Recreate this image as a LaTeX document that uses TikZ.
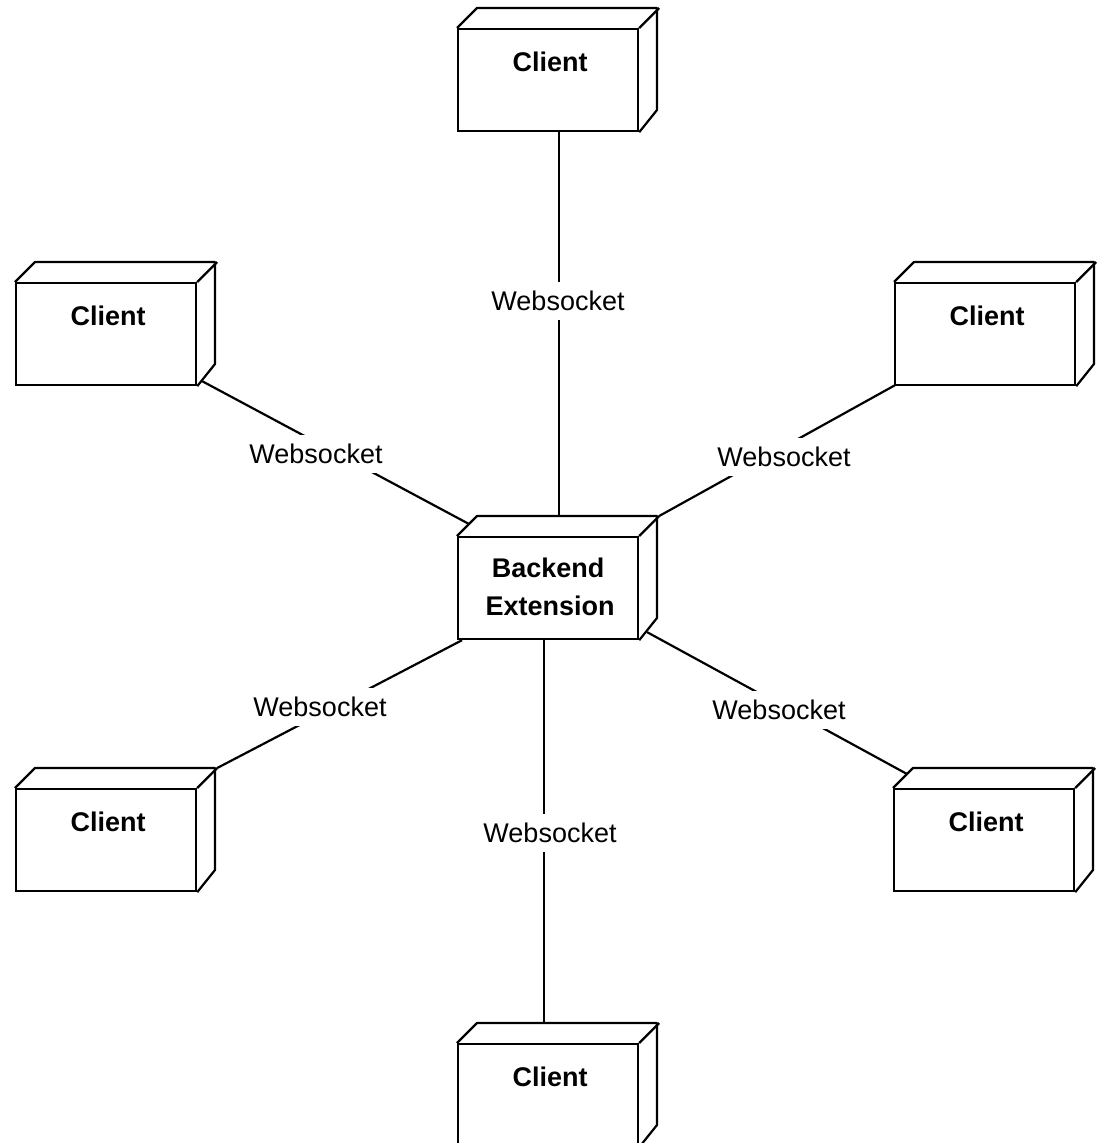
\documentclass[tikz,border=0pt]{standalone}
\usepackage{fontspec}
\setmainfont{Liberation Sans}
\usetikzlibrary{calc}
\tikzset{
  box/.style={draw, line width=2.2pt, minimum width=180pt, minimum height=102pt, inner sep=0pt, anchor=north west, fill=white},
  edge/.style={line width=2.2pt, line join=round},
  boxtext/.style={font=\fontsize{27}{32}\selectfont\bfseries, anchor=base, inner sep=0pt},
  lbl/.style={font=\fontsize{27}{32}\selectfont, fill=white, inner xsep=2pt, inner ysep=0pt, minimum height=38pt},
}
\newcommand{\umlbox}[4]{%
  \node[box] (#1) at (#2,#3) {};
  \draw[edge] (#1.north west) -- ++(20,-20) -- ++(180,0) -- ++(0,102) -- (#1.south east);
  \draw[edge] (#1.north east) -- ++(20,-20);
  \node[boxtext] (#1-t) at ($(#1.north)+(2,43)$) {#4};
}
\begin{document}
\begin{tikzpicture}[x=1pt, y=-1pt]
  \useasboundingbox (0,0) rectangle (1101,1143);
  % nodes
  \umlbox{T}{457}{28}{Client}
  \umlbox{L1}{15}{282}{Client}
  \umlbox{R1}{894}{282}{Client}
  \umlbox{L2}{15}{788}{Client}
  \umlbox{R2}{893}{788}{Client}
  \umlbox{B}{457}{1043}{Client}
  \node[box] (C) at (457,536) {};
  \draw[edge] (C.north west) -- ++(20,-20) -- ++(180,0) -- ++(0,102) -- (C.south east);
  \draw[edge] (C.north east) -- ++(20,-20);
  \node[boxtext] (C-t1) at ($(C.north)+(0,41)$) {Backend};
  \node[boxtext] (C-t2) at ($(C.north)+(2,79)$) {Extension};
  % connectors
  \draw[edge] ($(T.south)+(11,0)$) -- ($(C.north)+(11,-20)$);
  \draw[edge] ($(L1.south east)+(5,-5)$) -- ($(C.north west)+(12,-12)$);
  \draw[edge] ($(R1.south west)+(1,-1)$) -- ($(C.north east)+(20,-20)$);
  \draw[edge] ($(L2.north east)+(20,-20)$) -- ($(C.south west)+(5,0)$);
  \draw[edge] ($(C.south east)+(8,-8)$) -- ($(R2.north west)+(14,-14)$);
  \draw[edge] ($(C.south)+(-4,0)$) -- ($(B.north)+(-4,-20)$);
  % labels
  \node[lbl] (w1) at (558,301) {Websocket};
  \node[lbl] (w2) at (316,454) {Websocket};
  \node[lbl] (w3) at (784,457) {Websocket};
  \node[lbl] (w4) at (320,707) {Websocket};
  \node[lbl] (w5) at (779,710) {Websocket};
  \node[lbl] (w6) at (550,833) {Websocket};
\end{tikzpicture}
\end{document}
